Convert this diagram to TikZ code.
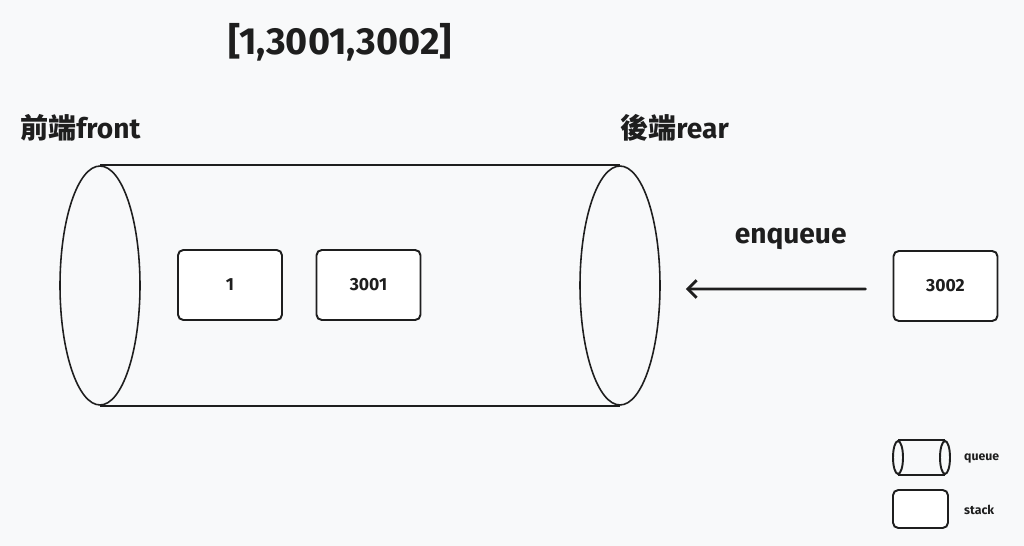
\documentclass[tikz,border=0pt]{standalone}
\usepackage{fontspec}
\setmainfont{Fira Sans}
\newfontfamily\cjk{Noto Sans CJK TC}
\usepackage{tikz}
\usetikzlibrary{arrows.meta, positioning, shapes.geometric}
\usepackage{xcolor}
\definecolor{paper}{RGB}{248,249,250}
\definecolor{ink}{RGB}{30,30,30}

\begin{document}
\begin{tikzpicture}[x=0.02cm, y=-0.02cm,
    every node/.style={text=ink},
    itembox/.style={draw=ink, line width=1.1pt, rounded corners=3pt, fill=white,
      minimum width=2.08cm, minimum height=1.4cm, font=\fontsize{10}{12}\selectfont\bfseries},
    tube/.style={draw=ink, line width=0.9pt},
    capend/.style={ellipse, draw=ink, line width=0.9pt, inner sep=0pt,
      minimum width=1.6cm, minimum height=4.78cm},
    heading/.style={font=\fontsize{16}{19}\selectfont\bfseries, anchor=west}]
  % background and frame
  \fill[paper] (0,0) rectangle (1024,546);
  \useasboundingbox (0,0) rectangle (1024,546);
  \node[font=\fontsize{21.5}{26}\selectfont\bfseries] (title) at (340,42) {[1,3001,3002]};
  \node[heading] (front) at (14,128) {{\cjk 前端}front};
  \node[heading] (rear) at (614,128) {{\cjk 後端}rear};
  % the queue as a tube
  \node[capend] (lend) at (100,285.5) {};
  \node[capend] (rend) at (620,285.5) {};
  \draw[tube] (lend.north) -- (rend.north);
  \draw[tube] (lend.south) -- (rend.south);
  % items
  \node[itembox] (one) at (230,285) {1};
  \node[itembox] (twoitem) at (368.5,285) {3001};
  \node[itembox] (newitem) at (945.5,286) {3002};
  \coordinate (push) at ([xshift=-0.54cm, yshift=-0.06cm]newitem.west);
  \coordinate (tip) at ([xshift=0.5cm, yshift=-0.07cm]rend.east);
  \draw[ink, line width=1.6pt, line cap=round, -{Straight Barb[length=5pt, width=10pt]}]
    (push) -- (tip)
    node[midway, above=0.64cm, xshift=0.3cm, font=\fontsize{16}{19}\selectfont\bfseries] (enq) {enqueue};
  % legend
  \node[ellipse, draw=ink, line width=1.1pt, inner sep=0pt, minimum width=0.2cm,
    minimum height=0.66cm] (ql) at (898,457.5) {};
  \node[ellipse, draw=ink, line width=1.1pt, inner sep=0pt, minimum width=0.2cm,
    minimum height=0.66cm] (qr) at (945,457.5) {};
  \draw[ink, line width=1.1pt] (ql.north) -- (qr.north);
  \draw[ink, line width=1.1pt] (ql.south) -- (qr.south);
  \node[font=\scriptsize\bfseries, anchor=west] (qlab) at (958,458) {queue};
  \node[draw=ink, line width=1.1pt, rounded corners=3pt, fill=white,
    minimum width=1.1cm, minimum height=0.76cm] (skey) at (920.5,509) {};
  \node[font=\scriptsize\bfseries, anchor=west] (slab) at (958,510) {stack};
\end{tikzpicture}
\end{document}
